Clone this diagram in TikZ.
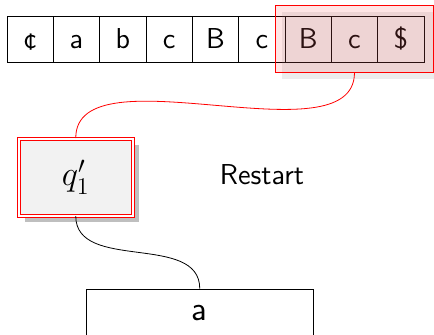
\documentclass[tikz,border=0pt]{standalone}
\usepackage{amsmath,amssymb}
\usepackage{xcolor}
\usepackage{tikz}
\usetikzlibrary{fit}

\tikzset{
	cell/.style={draw, inner sep=0pt, minimum width=23.17pt, minimum height=23pt, font=\sffamily\Large, text height=10.5pt, text depth=1.1pt},
	window/.style={draw=red, fill=red, fill opacity=0.1, inner xsep=4.6pt, inner ysep=4.9pt},
	windowshade/.style={fill=black!50, fill opacity=0.15, inner xsep=4.6pt, inner ysep=4.9pt},
	state/.style={draw=red, line width=0.5pt, double=white, double distance=1pt, fill=gray!10, minimum width=56.75pt, minimum height=38.5pt, font=\LARGE},
	stateshade/.style={fill=black!50, fill opacity=0.5, minimum width=56.75pt, minimum height=38.5pt},
	stackcell/.style={draw, inner sep=0pt, minimum width=113.25pt, minimum height=23.5pt, font=\sffamily\LARGE}
}

\begin{document}
\begin{tikzpicture}[x=0.5pt, y=0.5pt]
		\useasboundingbox (0,0) rectangle (434,334);
		\pgfmathsetmacro{\tapex}{30.17}
		\pgfmathsetmacro{\tapey}{295}
		\pgfmathsetmacro{\cellw}{46.33}
		\pgfmathsetmacro{\shade}{6.4}
		\node[cell] (c1) at (\tapex,\tapey) {¢};
		\node[cell] (c2) at (\tapex+\cellw,\tapey) {a};
		\node[cell] (c3) at (\tapex+2*\cellw,\tapey) {b};
		\node[cell] (c4) at (\tapex+3*\cellw,\tapey) {c};
		\node[cell] (c5) at (\tapex+4*\cellw,\tapey) {B};
		\node[cell] (c6) at (\tapex+5*\cellw,\tapey) {c};
		\node[cell] (c7) at (\tapex+6*\cellw,\tapey) {B};
		\node[cell] (c8) at (\tapex+7*\cellw,\tapey) {c};
		\node[cell] (c9) at (\tapex+8*\cellw,\tapey) {\$};
		
		\node[windowshade, fit=(c7)(c9), xshift=3.2pt, yshift=-3.2pt] (winshade) {};
		\node[window, fit=(c7)(c9)] (win) {};
		
		\node[stateshade] (qshade) at (75.75+\shade,157-\shade) {};
		\node[state] (q) at (75.75,157) {$q'_1$};
		\node[font=\sffamily\Large] (restart) at (262,159.7) {Restart};
		\node[stackcell] (top) at (199.75,21.5) {a};
		
		\draw[red] (win.south) to[out=-90, in=90, looseness=0.8] (q.north);
		\draw (q.south) to[out=-90, in=90] (top.north);
		
		\end{tikzpicture}
\end{document}
